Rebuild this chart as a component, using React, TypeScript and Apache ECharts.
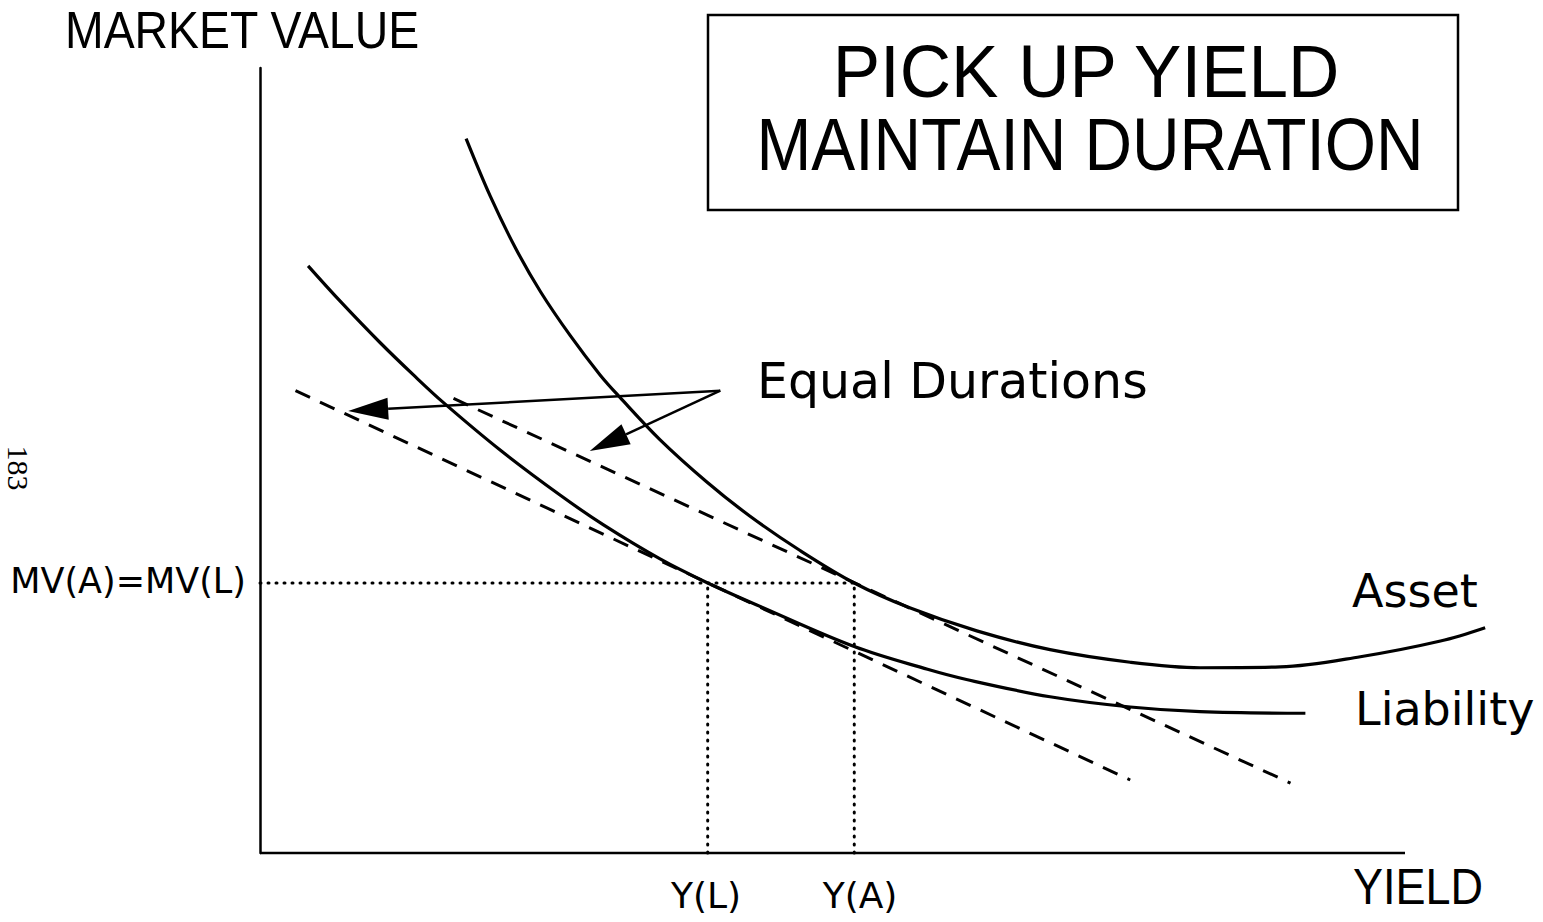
import React, { useEffect, useRef } from "react";
import * as echarts from "echarts";

// Market value vs. yield (arbitrary units)
const assetCurve: [number, number][] = [
  [1.8, 9.1], [2.01, 8.37], [2.23, 7.71], [2.45, 7.15], [2.71, 6.59], [2.97, 6.09],
  [3.14, 5.81], [3.49, 5.27], [3.9, 4.73], [4.28, 4.29], [4.72, 3.85], [5.19, 3.44],
  [5.68, 3.12], [6.26, 2.83], [6.9, 2.59], [7.6, 2.43], [8.21, 2.36], [8.91, 2.37],
  [9.61, 2.5], [10.31, 2.7], [10.7, 2.87],
];
const liabilityCurve: [number, number][] = [
  [0.42, 7.48], [0.7, 7.03], [1.05, 6.5], [1.34, 6.09], [1.6, 5.74], [2.1, 5.13],
  [2.62, 4.56], [3.0, 4.18], [3.49, 3.75], [3.91, 3.44], [4.37, 3.14], [5.19, 2.63],
  [5.83, 2.34], [6.17, 2.21], [6.9, 1.99], [7.6, 1.86], [8.21, 1.8], [9.13, 1.78],
];
const liabilityTangent: [number, number][] = [[0.31, 5.89], [7.6, 0.93]];
const assetTangent: [number, number][] = [[1.69, 5.79], [9.0, 0.89]];
const marketValueLevel = 3.44;
const yieldL = 3.91;
const yieldA = 5.19;
const yieldAxisEnd = 10;
const arrowTail: [number, number] = [4.02, 5.89];
const arrowTips: [number, number][] = [[0.77, 5.63], [2.88, 5.12]];

const titleLines = ["PICK UP YIELD", "MAINTAIN DURATION"];
const yAxisTitle = "MARKET VALUE";
const xAxisTitle = "YIELD";
const levelLabel = "MV(A)=MV(L)";
const yieldLabels = ["Y(L)", "Y(A)"];
const curveLabels = ["Asset", "Liability"];
const noteLabel = "Equal Durations";
const pageNumber = "183";

const BLACK = "#000";

export default function App() {
  const ref = useRef<HTMLDivElement>(null);
  useEffect(() => {
    if (!ref.current) return;
    const chart = echarts.init(ref.current, undefined, { renderer: "svg" });
    const dotted = { color: BLACK, width: 3, type: [1, 7] as any, cap: "round" as any };
    const dashed = { color: BLACK, width: 3, type: [16, 11] as any };
    const solid = { color: BLACK, width: 3.2 };
    const thin = "Liberation Sans, Arial, sans-serif";
    const round = "DejaVu Sans, sans-serif";
    chart.setOption({
      animation: false,
      backgroundColor: "#fff",
      grid: { left: 260, top: 68, width: 1259.5, height: 785 },
      xAxis: {
        type: "value", min: 0, max: 11,
        axisLine: { show: false },
        axisTick: { show: false }, axisLabel: { show: false }, splitLine: { show: false },
      },
      yAxis: {
        type: "value", min: 0, max: 10,
        axisLine: { show: true, onZero: false, lineStyle: { color: BLACK, width: 2.5 } },
        axisTick: { show: false }, axisLabel: { show: false }, splitLine: { show: false },
      },
      series: [
        { type: "line", symbol: "none", clip: false, lineStyle: { color: BLACK, width: 2.5 },
          data: [[0, 0], [yieldAxisEnd, 0]] },
        { type: "line", symbol: "none", clip: false, lineStyle: dotted,
          data: [[0, marketValueLevel], [yieldA, marketValueLevel]] },
        { type: "line", symbol: "none", clip: false, lineStyle: dotted,
          data: [[yieldL, 0], [yieldL, marketValueLevel]] },
        { type: "line", symbol: "none", clip: false, lineStyle: dotted,
          data: [[yieldA, 0], [yieldA, marketValueLevel]] },
        { type: "line", symbol: "none", clip: false, lineStyle: dashed, data: liabilityTangent },
        { type: "line", symbol: "none", clip: false, lineStyle: dashed, data: assetTangent },
        { type: "line", name: "Asset", symbol: "none", clip: false, smooth: 0.35, lineStyle: solid, data: assetCurve },
        { type: "line", name: "Liability", symbol: "none", clip: false, smooth: 0.35, lineStyle: solid, data: liabilityCurve },
        {
          type: "custom",
          clip: false,
          dimensions: ["x0", "y0", "x1", "y1"],
          encode: { x: [0, 2], y: [1, 3] },
          data: arrowTips.map((t) => [arrowTail[0], arrowTail[1], t[0], t[1]]),
          renderItem: (_params: any, api: any) => {
            const p0 = api.coord([api.value(0), api.value(1)]);
            const p1 = api.coord([api.value(2), api.value(3)]);
            const dx = p1[0] - p0[0];
            const dy = p1[1] - p0[1];
            const len = Math.hypot(dx, dy);
            const ux = dx / len;
            const uy = dy / len;
            const headL = 40;
            const headW = 11;
            const bx = p1[0] - ux * headL;
            const by = p1[1] - uy * headL;
            return {
              type: "group",
              children: [
                { type: "line", shape: { x1: p0[0], y1: p0[1], x2: bx, y2: by },
                  style: { stroke: BLACK, lineWidth: 2.5 } },
                { type: "polygon",
                  shape: { points: [[p1[0], p1[1]], [bx - uy * headW, by + ux * headW], [bx + uy * headW, by - ux * headW]] },
                  style: { fill: BLACK } },
              ],
            };
          },
        },
      ],
      graphic: [
        { type: "rect", shape: { x: 708, y: 15, width: 750, height: 195 },
          style: { fill: "none", stroke: BLACK, lineWidth: 2.5 } },
        { type: "text", x: 1086, y: 71, scaleX: 0.96, style: { text: titleLines[0], fontFamily: thin, fontSize: 74,
          fill: BLACK, align: "center", verticalAlign: "middle" } },
        { type: "text", x: 1090, y: 145, scaleX: 0.89, style: { text: titleLines[1], fontFamily: thin, fontSize: 74,
          fill: BLACK, align: "center", verticalAlign: "middle" } },
        { type: "text", x: 65, y: 30, scaleX: 0.91, style: { text: yAxisTitle, fontFamily: thin, fontSize: 51,
          fill: BLACK, align: "left", verticalAlign: "middle" } },
        { type: "text", x: 1353, y: 887, scaleX: 0.9, style: { text: xAxisTitle, fontFamily: thin, fontSize: 50,
          fill: BLACK, align: "left", verticalAlign: "middle" } },
        { type: "text", x: 246, y: 581, style: { text: levelLabel, fontFamily: round, fontSize: 35,
          fill: BLACK, align: "right", verticalAlign: "middle" } },
        { type: "text", x: 706, y: 895, style: { text: yieldLabels[0], fontFamily: round, fontSize: 36,
          fill: BLACK, align: "center", verticalAlign: "middle" } },
        { type: "text", x: 860, y: 895, style: { text: yieldLabels[1], fontFamily: round, fontSize: 36,
          fill: BLACK, align: "center", verticalAlign: "middle" } },
        { type: "text", x: 1352, y: 591, style: { text: curveLabels[0], fontFamily: round, fontSize: 46,
          fill: BLACK, align: "left", verticalAlign: "middle" } },
        { type: "text", x: 1355, y: 709, style: { text: curveLabels[1], fontFamily: round, fontSize: 46,
          fill: BLACK, align: "left", verticalAlign: "middle" } },
        { type: "text", x: 757, y: 381, style: { text: noteLabel, fontFamily: round, fontSize: 49,
          fill: BLACK, align: "left", verticalAlign: "middle" } },
        { type: "text", x: 18, y: 468, rotation: -Math.PI / 2, style: { text: pageNumber,
          fontFamily: "Liberation Serif, serif", fontSize: 30, fill: BLACK, align: "center", verticalAlign: "middle" } },
      ],
    });
    return () => chart.dispose();
  }, []);
  return (
    <div
      ref={ref}
      style={{ position: "fixed", left: 0, top: 0, width: 1543, height: 922, background: "#fff" }}
    />
  );
}
